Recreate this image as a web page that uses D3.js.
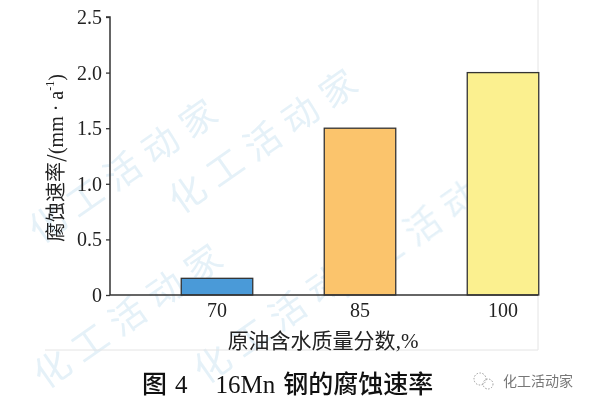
<!DOCTYPE html>
<html>
<head>
<meta charset="utf-8">
<title>16Mn 钢的腐蚀速率</title>
<script src="https://d3js.org/d3.v7.min.js"></script>
<style>
  body { margin: 0; background: #fff; }
  svg { display: block; }
  .tick text { font-family: "Liberation Serif", serif; font-size: 20px; fill: #222; }
</style>
</head>
<body>
<div id="chart"></div>
<script>
// data
const categories = ["70", "85", "100"];
const rates = [0.15, 1.5, 2.0];
const barColors = ["#4a9ad8", "#fbc46c", "#fbf08f"];
const yTicks = [0, 0.5, 1.0, 1.5, 2.0, 2.5];

const width = 590, height = 404;
const x0 = 110, x1 = 538, yTop = 17, yBot = 295;

const svg = d3.select("#chart").append("svg")
    .attr("width", width)
    .attr("height", height);

// faint watermark text, kept inside the picture
const wm = svg.append("g").attr("fill", "#cfe6f3").attr("opacity", 0.55)
    .style("font-family", "Noto Sans CJK SC").style("font-size", "36px");
const wmRows = [[40, 245], [180, 215], [45, 390], [205, 385], [340, 300]];
wm.selectAll("text").data(wmRows).enter().append("text")
    .attr("transform", d => `translate(${d[0]},${d[1]}) rotate(-35)`)
    .attr("letter-spacing", 10)
    .text("化工活动家");

// frame lines of the figure box
svg.append("line").attr("x1", 45).attr("x2", x1).attr("y1", 350).attr("y2", 350)
    .attr("stroke", "#e4e4e4");
svg.append("line").attr("x1", x1).attr("x2", x1).attr("y1", 0).attr("y2", 350)
    .attr("stroke", "#e4e4e4");

const x = d3.scaleBand()
    .domain(categories)
    .range([145.5, 574.5])
    .paddingInner(0.5)
    .paddingOuter(0.25);

const y = d3.scaleLinear().domain([0, 2.5]).range([yBot, yTop]);

// bars
svg.selectAll(".bar").data(rates).enter().append("rect")
    .attr("class", "bar")
    .attr("x", (d, i) => x(categories[i]))
    .attr("y", d => y(d))
    .attr("width", x.bandwidth())
    .attr("height", d => y(0) - y(d))
    .attr("fill", (d, i) => barColors[i])
    .attr("stroke", "#333")
    .attr("stroke-width", 1.3);

// y axis
const yAxis = svg.append("g")
    .attr("transform", `translate(${x0},0)`)
    .call(d3.axisLeft(y).tickValues(yTicks).tickSize(4).tickPadding(4)
        .tickFormat(d => d === 0 ? "0" : d3.format(".1f")(d)));
yAxis.select(".domain").attr("stroke", "#333").attr("stroke-width", 1.5)
    .attr("d", `M-4,${yTop}H0V${yBot}`);
yAxis.selectAll(".tick line").attr("stroke", "#333").attr("stroke-width", 1.3);

// x axis
const xAxis = svg.append("g")
    .attr("transform", `translate(0,${yBot})`)
    .call(d3.axisBottom(x).tickSize(0).tickPadding(8));
xAxis.select(".domain").attr("stroke", "#333").attr("stroke-width", 1.5)
    .attr("d", `M${x0},0H${x1}`);

// axis titles
const yTitle = svg.append("text")
    .attr("transform", "translate(63,158) rotate(-90)")
    .attr("text-anchor", "middle")
    .style("font-family", "'Noto Sans CJK SC', 'Liberation Serif'")
    .style("font-size", "20px")
    .attr("fill", "#222");
yTitle.append("tspan").text("腐蚀速率/");
yTitle.append("tspan").style("font-family", "Liberation Serif").text("(mm · a");
yTitle.append("tspan").style("font-family", "Liberation Serif").style("font-size", "12px")
    .attr("dy", -9).text("-1");
yTitle.append("tspan").style("font-family", "Liberation Serif").attr("dy", 9).text(")");

const xTitle = svg.append("text")
    .attr("x", 323).attr("y", 348)
    .attr("text-anchor", "middle")
    .style("font-size", "21px")
    .attr("fill", "#222");
xTitle.append("tspan").style("font-family", "Noto Sans CJK SC").text("原油含水质量分数");
xTitle.append("tspan").style("font-family", "Liberation Serif").text(",%");

// caption
const cap = svg.append("text")
    .attr("x", 142).attr("y", 393)
    .style("font-size", "25px")
    .attr("fill", "#111");
cap.append("tspan").style("font-family", "Noto Sans CJK SC").style("font-weight", 500).text("图");
cap.append("tspan").style("font-family", "Liberation Serif").attr("dx", 8).text("4");
cap.append("tspan").style("font-family", "Liberation Serif").attr("dx", 28).text("16Mn");
cap.append("tspan").style("font-family", "Noto Sans CJK SC").style("font-weight", 500).attr("dx", 8).text("钢的腐蚀速率");

// logo mark bottom right
const logo = svg.append("g").attr("transform", "translate(484,381)")
    .attr("fill", "none").attr("stroke", "#999").attr("stroke-dasharray", "1.5,1.5");
logo.append("circle").attr("cx", -4).attr("cy", -2).attr("r", 6);
logo.append("circle").attr("cx", 4).attr("cy", 3).attr("r", 5);
svg.append("text").attr("x", 503).attr("y", 386)
    .style("font-family", "Noto Sans CJK SC").style("font-size", "14px")
    .attr("fill", "#777").text("化工活动家");
</script>
</body>
</html>
